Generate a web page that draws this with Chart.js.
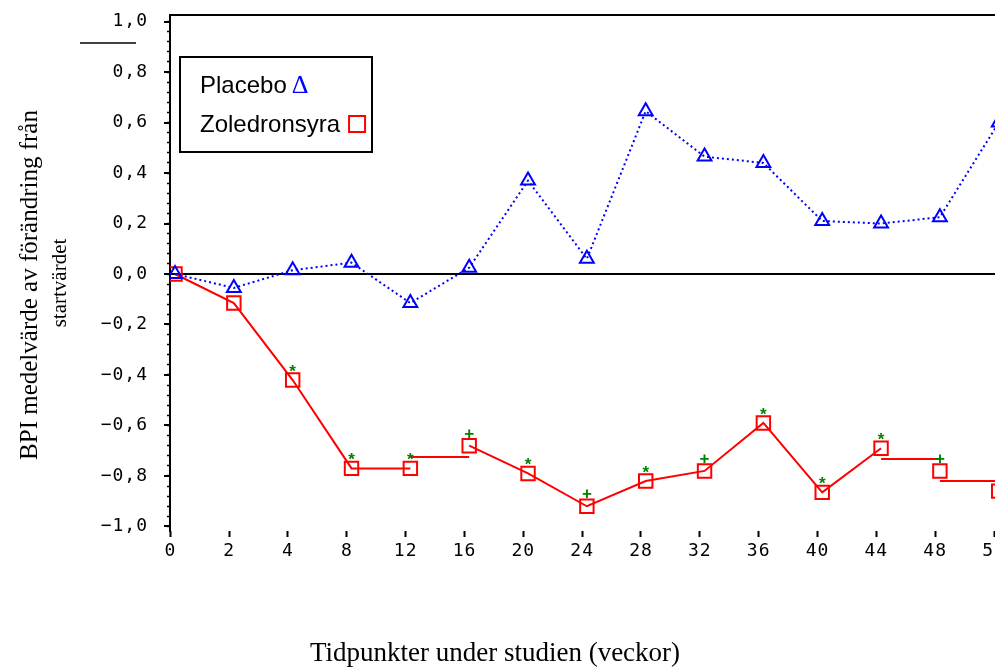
<!DOCTYPE html>
<html lang="sv">
<head>
<meta charset="utf-8">
<title>BPI medelvärde</title>
<script src="https://cdn.jsdelivr.net/npm/chart.js@4.4.1/dist/chart.umd.min.js"></script>
<style>
  html, body { margin: 0; padding: 0; overflow: hidden; background: #fff; }
  canvas { display: block; }
</style>
</head>
<body>
<canvas id="bpiChart" width="1011" height="667"></canvas>
<script>
// weeks (x categories)
const weeks = ["0", "2", "4", "8", "12", "16", "20", "24", "28", "32", "36", "40", "44", "48", "52"];
const placebo = [0.0, -0.055, 0.015, 0.045, -0.115, 0.025, 0.37, 0.06, 0.645, 0.465, 0.44, 0.21, 0.2, 0.225, 0.6];
const zoledron = [0.0, -0.115, -0.42, -0.77, -0.77, -0.68, -0.79, -0.92, -0.82, -0.78, -0.59, -0.865, -0.69, -0.78, -0.86];
const signif = ["", "", "*", "*", "*", "+", "*", "+", "*", "+", "*", "*", "*", "+", ""];
// loose horizontal pieces of the red line: [from index, to index, value]
const zolPieces = [[4, 5, -0.725], [12, 13, -0.733], [13, 14, -0.82]];
const yTicks = [1.0, 0.8, 0.6, 0.4, 0.2, 0.0, -0.2, -0.4, -0.6, -0.8, -1.0];

const RED = "#ff0000";
const BLUE = "#0000ff";
const GREEN = "#008000";
const tickFont = { family: "DejaVu Sans Mono", size: 18 };

const brokenFrom = zolPieces.map((p) => p[0]);

function fmtY(v) {
  if (Math.abs(v) < 1e-9) return "0,0";
  return (v < 0 ? "\u2212" : "") + Math.abs(v).toFixed(1).replace(".", ",");
}

// axes keep their own size, no extra room for edge labels
function noEdgePadding(s) {
  s.paddingTop = 0;
  s.paddingBottom = 0;
  s.paddingLeft = 0;
  s.paddingRight = 0;
}

const minorTicks = [];
for (let v = -1.0; v <= 1.0001; v += 0.04) minorTicks.push({ value: v });

const decor = {
  id: "decor",
  beforeLayout(chart) {
    chart.ctx.letterSpacing = "1px";
  },
  beforeDraw(chart) {
    chart.ctx.letterSpacing = "1px";
  },
  afterDraw(chart) {
    const { ctx, chartArea } = chart;
    ctx.save();
    ctx.letterSpacing = "0px";

    // top frame line
    ctx.strokeStyle = "#000";
    ctx.lineWidth = 2;
    ctx.beginPath();
    ctx.moveTo(chartArea.left, chartArea.top);
    ctx.lineTo(chartArea.right, chartArea.top);
    ctx.stroke();

    // stray short rule near the top label
    ctx.lineWidth = 1.5;
    ctx.beginPath();
    ctx.moveTo(80, 43);
    ctx.lineTo(136, 43);
    ctx.stroke();

    // significance marks above the zoledronsyra points
    const meta = chart.getDatasetMeta(1);
    ctx.fillStyle = GREEN;
    ctx.font = "bold 17px 'Liberation Sans'";
    ctx.textAlign = "center";
    ctx.textBaseline = "alphabetic";
    meta.data.forEach((pt, i) => {
      const s = signif[i];
      if (!s) return;
      const dy = s === "*" ? -3 : -7;
      ctx.fillText(s, pt.x, pt.y + dy);
    });

    // legend box
    ctx.strokeStyle = "#000";
    ctx.lineWidth = 2;
    ctx.strokeRect(180, 57, 192, 95);
    ctx.textAlign = "left";
    ctx.fillStyle = "#000";
    ctx.font = "24px 'Liberation Sans'";
    ctx.fillText("Placebo", 200, 93);
    const w1 = ctx.measureText("Placebo").width;
    ctx.fillText("Zoledronsyra", 200, 132);
    const w2 = ctx.measureText("Zoledronsyra").width;
    ctx.fillStyle = BLUE;
    ctx.font = "26px 'Liberation Serif'";
    ctx.fillText("\u0394", 200 + w1 + 5, 93);
    ctx.strokeStyle = RED;
    ctx.lineWidth = 2;
    ctx.strokeRect(200 + w2 + 9, 116, 16, 16);

    // axis titles
    ctx.fillStyle = "#000";
    ctx.textAlign = "center";
    ctx.font = "27px 'Liberation Serif'";
    ctx.fillText("Tidpunkter under studien (veckor)", 495, 661);

    ctx.save();
    ctx.translate(37, 285);
    ctx.rotate(-Math.PI / 2);
    ctx.font = "25px 'Liberation Serif'";
    ctx.fillText("BPI medelvärde av förändring från", 0, 0);
    ctx.restore();
    ctx.save();
    ctx.translate(66, 283);
    ctx.rotate(-Math.PI / 2);
    ctx.font = "21px 'Liberation Serif'";
    ctx.fillText("startvärdet", 0, 0);
    ctx.restore();

    ctx.restore();
  },
};

const ctx = document.getElementById("bpiChart").getContext("2d");

const datasets = [
  {
    label: "Placebo",
    data: placebo.map((v, i) => ({ x: i, y: v })),
    borderColor: BLUE,
    borderWidth: 2,
    borderDash: [2, 3],
    pointStyle: "triangle",
    pointRadius: 8,
    pointBorderWidth: 2,
    pointBorderColor: BLUE,
    pointBackgroundColor: "rgba(0,0,0,0)",
  },
  {
    label: "Zoledronsyra",
    data: zoledron.map((v, i) => ({ x: i, y: v })),
    borderColor: RED,
    borderWidth: 2,
    pointStyle: "rect",
    pointRadius: 9.5,
    pointBorderWidth: 2,
    pointBorderColor: RED,
    pointBackgroundColor: "rgba(0,0,0,0)",
    segment: {
      borderColor: (c) => (brokenFrom.includes(c.p0DataIndex) ? "rgba(0,0,0,0)" : RED),
    },
  },
];

zolPieces.forEach((p) => {
  datasets.push({
    label: "Zoledronsyra (del)",
    data: [{ x: p[0], y: p[2] }, { x: p[1], y: p[2] }],
    borderColor: RED,
    borderWidth: 2,
    pointRadius: 0,
  });
});

new Chart(ctx, {
  type: "line",
  data: { datasets: datasets },
  plugins: [decor],
  options: {
    responsive: false,
    animation: false,
    layout: { padding: { top: 15, left: 0, right: 0, bottom: 0 } },
    plugins: {
      legend: { display: false },
      tooltip: { enabled: false },
    },
    scales: {
      x: {
        type: "linear",
        min: -0.085,
        max: 14.013,
        afterBuildTicks: (s) => {
          s.ticks = weeks.map((w, i) => ({ value: i - 0.08 }));
        },
        afterFit: (s) => {
          s.height = 136;
          noEdgePadding(s);
        },
        ticks: {
          callback: (v, idx) => weeks[idx],
          autoSkip: false,
          maxRotation: 0,
          padding: 4,
          color: "#000",
          font: tickFont,
        },
        grid: {
          drawOnChartArea: false,
          tickLength: 6,
          tickColor: "#000",
          tickWidth: 2,
        },
        border: { display: false },
      },
      y: {
        position: "left",
        weight: 1,
        min: -1.018,
        max: 1.026,
        afterBuildTicks: (s) => {
          s.ticks = yTicks.map((v) => ({ value: v }));
        },
        afterFit: (s) => {
          s.width = 170;
          noEdgePadding(s);
        },
        ticks: {
          callback: (v) => fmtY(v),
          padding: 16,
          color: "#000",
          font: tickFont,
        },
        grid: {
          color: (c) => (c.tick && Math.abs(c.tick.value) < 1e-9 ? "#000" : "rgba(0,0,0,0)"),
          lineWidth: 2,
          tickColor: "#000",
          tickLength: 6,
          tickWidth: 2,
        },
        border: { display: true, color: "#000", width: 2 },
      },
      yMinor: {
        position: "left",
        weight: 0,
        min: -1.018,
        max: 1.026,
        afterBuildTicks: (s) => {
          s.ticks = minorTicks.slice();
        },
        afterFit: (s) => {
          s.width = 0;
          noEdgePadding(s);
        },
        ticks: { display: false },
        grid: {
          drawOnChartArea: false,
          tickLength: 3,
          tickColor: "#000",
          tickWidth: 1.5,
        },
        border: { display: false },
      },
    },
  },
});
</script>
</body>
</html>
